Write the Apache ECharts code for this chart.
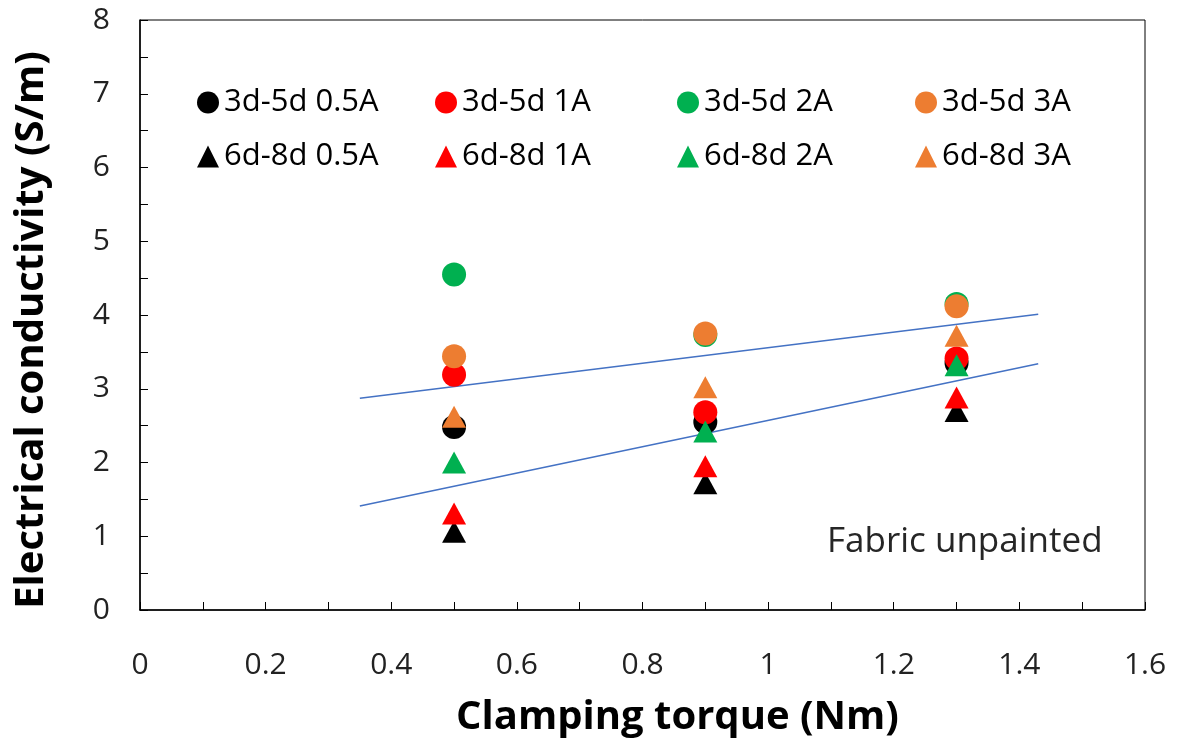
<!DOCTYPE html>
<html>
<head>
<meta charset="utf-8">
<script src="https://cdn.jsdelivr.net/npm/echarts@6/dist/echarts.min.js"></script>
<style>
  html, body { margin: 0; padding: 0; background: #fff; }
  #chart { width: 1179px; height: 750px; }
</style>
</head>
<body>
<div id="chart"></div>
<script>
// clamping torque (Nm)
const torque = [0.5, 0.9, 1.3];

// 3d-5d circles
const c05 = [2.48, 2.55, 3.35];
const c1 = [3.19, 2.68, 3.41];
const c2 = [4.55, 3.73, 4.15];
const c3 = [3.44, 3.75, 4.12];

// 6d-8d triangles
const t05 = [1.06, 1.72, 2.70];
const t1 = [1.31, 1.95, 2.88];
const t2 = [2.00, 2.42, 3.32];
const t3 = [2.62, 3.02, 3.72];

// trend line end points
const upperTrend = [[0.35, 2.87], [1.43, 4.01]];
const lowerTrend = [[0.35, 1.41], [1.43, 3.34]];

const colors = { '0.5A': '#000000', '1A': '#FF0000', '2A': '#00B050', '3A': '#ED7D31' };
const currents = ['0.5A', '1A', '2A', '3A'];
const circleSets = [c05, c1, c2, c3];
const triangleSets = [t05, t1, t2, t3];

const font = 'Open Sans, Noto Sans, sans-serif';

function pts(vals) {
  return torque.map((x, i) => [x, vals[i]]);
}

const series = [];
currents.forEach((c, i) => {
  series.push({
    name: '3d-5d ' + c,
    type: 'scatter',
    symbol: 'circle',
    symbolSize: 24,
    itemStyle: { color: colors[c], opacity: 1 },
    data: pts(circleSets[i])
  });
});
currents.forEach((c, i) => {
  series.push({
    name: '6d-8d ' + c,
    type: 'scatter',
    symbol: 'triangle',
    symbolSize: [24, 22],
    itemStyle: { color: colors[c], opacity: 1 },
    data: pts(triangleSets[i])
  });
});
[upperTrend, lowerTrend].forEach(d => {
  series.push({
    type: 'line',
    data: d,
    symbol: 'none',
    lineStyle: { color: '#4472C4', width: 1.5 },
    z: 1,
    silent: true
  });
});

// one legend per item so the columns line up like the original
const colLeft = [192, 430, 672, 910];
const legends = [];
currents.forEach((c, i) => {
  legends.push({
    data: ['3d-5d ' + c], left: colLeft[i], top: 82, icon: 'circle',
    itemWidth: 22, itemHeight: 22,
    textStyle: { fontFamily: font, fontSize: 31, color: '#000' }
  });
  legends.push({
    data: ['6d-8d ' + c], left: colLeft[i], top: 136, icon: 'triangle',
    itemWidth: 22, itemHeight: 22,
    textStyle: { fontFamily: font, fontSize: 31, color: '#000' }
  });
});

const chart = echarts.init(document.getElementById('chart'));
chart.setOption({
  animation: false,
  backgroundColor: '#fff',
  grid: { left: 140, right: 34, top: 20, bottom: 140, show: true, borderColor: '#000', borderWidth: 1 },
  title: {
    text: 'Fabric unpainted',
    left: 822,
    top: 520,
    textStyle: { fontFamily: font, fontSize: 35, fontWeight: 'normal', color: '#262626' }
  },
  legend: legends,
  xAxis: {
    type: 'value',
    min: 0,
    max: 1.6,
    interval: 0.2,
    name: 'Clamping torque (Nm)',
    nameLocation: 'middle',
    nameGap: 88,
    nameTextStyle: { fontFamily: font, fontSize: 40, fontWeight: 'bold', color: '#000', padding: [0, 0, 0, 70] },
    axisLine: { lineStyle: { color: '#000', width: 1.5 } },
    axisTick: { inside: true, length: 8, lineStyle: { color: '#000' } },
    minorTick: { show: true, splitNumber: 2, length: 8, lineStyle: { color: '#000' } },
    splitLine: { show: false },
    axisLabel: { fontFamily: font, fontSize: 30, color: '#222', margin: 40 }
  },
  yAxis: {
    type: 'value',
    min: 0,
    max: 8,
    interval: 1,
    name: 'Electrical conductivity (S/m)',
    nameLocation: 'middle',
    nameGap: 88,
    nameTextStyle: { fontFamily: font, fontSize: 40, fontWeight: 'bold', color: '#000', padding: [0, 30, 0, 0] },
    axisLine: { show: true, lineStyle: { color: '#000', width: 1.5 } },
    axisTick: { inside: true, length: 8, lineStyle: { color: '#000' } },
    minorTick: { show: true, splitNumber: 2, length: 8, lineStyle: { color: '#000' } },
    splitLine: { show: false },
    axisLabel: { fontFamily: font, fontSize: 30, color: '#222', margin: 30 }
  },
  series: series
});
</script>
</body>
</html>
